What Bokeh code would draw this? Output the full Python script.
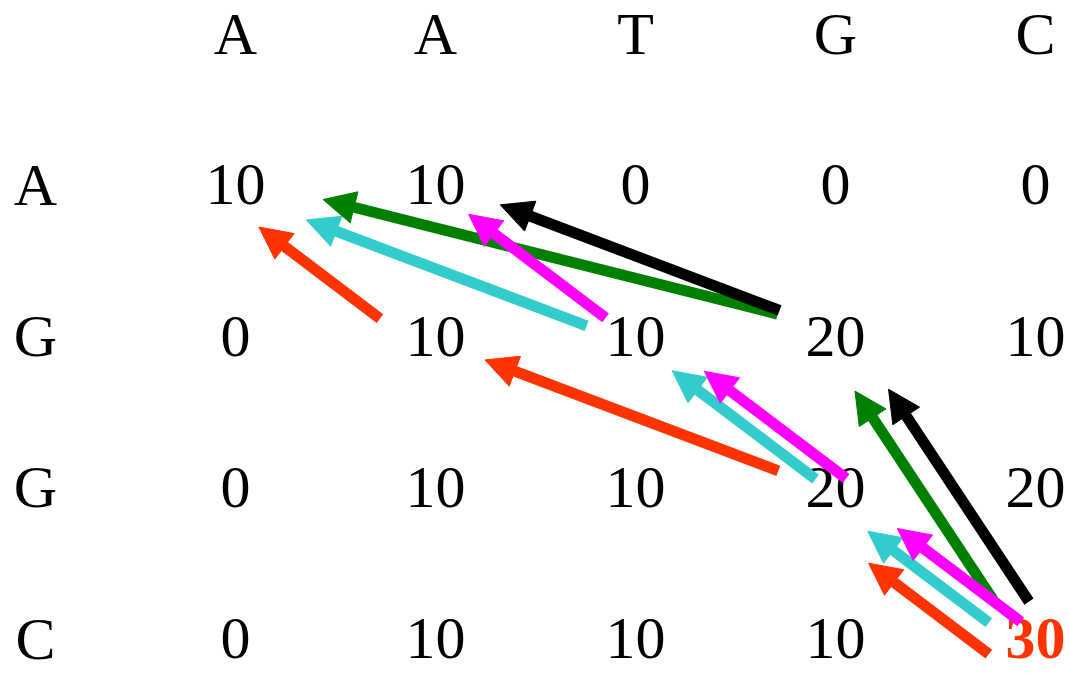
from math import hypot
from bokeh.plotting import figure
from bokeh.models import Range1d, ColumnDataSource, Arrow, NormalHead
from bokeh.core.properties import value
from bokeh.embed import file_html
from bokeh.resources import INLINE

# ---------------- data ----------------
seq_top = ["A", "A", "T", "G", "C"]
seq_left = ["A", "G", "G", "C"]
scores = [
    [10, 10, 0, 0, 0],
    [0, 10, 10, 20, 10],
    [0, 10, 10, 20, 20],
    [0, 10, 10, 10, 30],
]
best_cell = (4, 5)  # (row, col), 1-based

# traceback paths as sequences of cells (row, col)
path_red = [(4, 5), (3, 4), (2, 2), (1, 1)]
path_cyan = [(4, 5), (3, 4), (2, 3), (1, 1)]
path_magenta = [(4, 5), (3, 4), (2, 3), (1, 2)]
path_green = [(4, 5), (2, 4), (1, 1)]
path_black = [(4, 5), (2, 4), (1, 2)]

# ---------------- style ----------------
W, H = 1070, 675
PX_COL, PX_ROW = 200.0, 151.25     # pixel spacing of grid
X0, Y0 = 35.0, 35.0                # position of grid origin (col 0, row 0)
FONT = "Liberation Serif"
FSIZE = "60px"
TEXT_DY = -2
RED = "#FF3300"

# per-edge arrow layout: (start gap px, end gap px, lateral lane px)
paths = [
    (path_red, RED, [(29, 71, -39), (60, 54, -3), (56, 43, -18)]),
    (path_cyan, "#33CCCC", [(48, 51, -14), (22, 49, -4), (50, 78, -6)]),
    (path_green, "#008000", [(57, 55, -13), (62, 88, 9)]),
    (path_black, "#000000", [(36, 72, 16), (62, 67, 6)]),
    (path_magenta, "#FF00FF", [(23, 73, 6), (-2, 75, 15), (36, 43, -2)]),
]

p = figure(width=W, height=H, output_backend="svg", toolbar_location=None,
           x_range=Range1d(-X0 / PX_COL, (W - X0) / PX_COL),
           y_range=Range1d((H - Y0) / PX_ROW, -Y0 / PX_ROW),
           min_border=0, outline_line_color=None)
p.axis.visible = False
p.grid.visible = False
p.background_fill_color = "white"
p.border_fill_color = "white"

# ---------------- texts ----------------
tx, ty, tt = [], [], []
for j, s in enumerate(seq_top):
    tx.append(j + 1); ty.append(0); tt.append(s)
for i, s in enumerate(seq_left):
    tx.append(0); ty.append(i + 1); tt.append(s)
for i, row in enumerate(scores):
    for j, v in enumerate(row):
        if (i + 1, j + 1) == best_cell:
            continue
        tx.append(j + 1); ty.append(i + 1); tt.append(str(v))

p.text(x=tx, y=ty, text=tt, text_font=value(FONT), text_font_size=FSIZE,
       text_align="center", text_baseline="alphabetic", y_offset=TEXT_DY,
       text_color="black")
br, bc = best_cell
p.text(x=[bc], y=[br], text=[str(scores[br - 1][bc - 1])], text_font=value(FONT),
       text_font_size=FSIZE, text_font_style="bold", text_align="center",
       text_baseline="alphabetic", y_offset=TEXT_DY, text_color=RED)

# ---------------- arrows ----------------
for cells, color, edges in paths:
    xs0, ys0, xs1, ys1 = [], [], [], []
    for (a, b), (gs, ge, lane) in zip(zip(cells[:-1], cells[1:]), edges):
        (r0, c0), (r1, c1) = a, b
        dx = (c1 - c0) * PX_COL
        dy = (r1 - r0) * PX_ROW
        L = hypot(dx, dy)
        ux, uy = dx / L, dy / L
        px_, py_ = -uy, ux
        xs0.append(c0 + (gs * ux + lane * px_) / PX_COL)
        ys0.append(r0 + (gs * uy + lane * py_) / PX_ROW)
        xs1.append(c1 + (-ge * ux + lane * px_) / PX_COL)
        ys1.append(r1 + (-ge * uy + lane * py_) / PX_ROW)
    src = ColumnDataSource(dict(x0=xs0, y0=ys0, x1=xs1, y1=ys1))
    head = NormalHead(size=32, fill_color=color, line_color=color, line_width=1)
    p.add_layout(Arrow(end=head, x_start="x0", y_start="y0", x_end="x1", y_end="y1",
                       source=src, line_color=color, line_width=11))

open("out.html", "w").write(file_html(p, INLINE))
